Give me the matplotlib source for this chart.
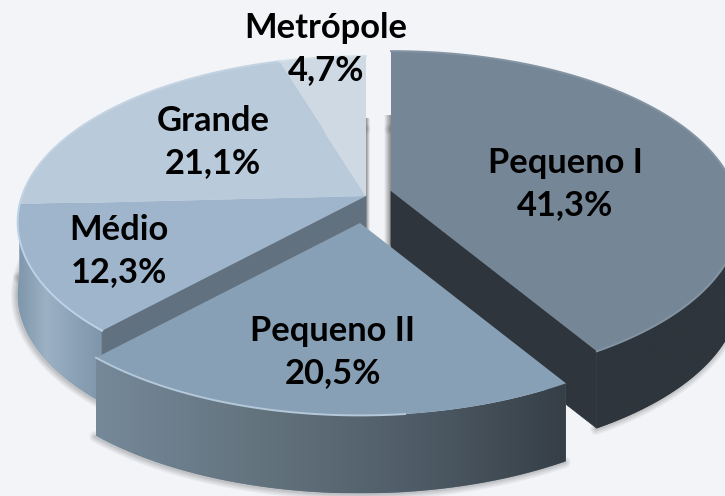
import matplotlib
matplotlib.use('Agg')
import matplotlib.pyplot as plt
import numpy as np
from matplotlib.colors import LinearSegmentedColormap
from matplotlib.patches import Polygon

names = ['Pequeno I', 'Pequeno II', 'Médio', 'Grande', 'Metrópole']
values = [41.3, 20.5, 12.3, 21.1, 4.7]

# where each slice's tip ended up after the explode, in pixels
apex_x = [391, 360, 366, 366, 366]
apex_y = [191, 223, 196, 196, 196]
depth = [77, 78, 72, 72, 72]
label_x = [565, 333, 119, 213, 326]
label_y = [184, 352, 251, 142, 49]

top_colors = ['#758697', '#88a0b5', '#9eb5cc', '#b9cadb', '#cfd9e4']
edge_colors = ['#8494a3', '#b4c8d9', '#bcd2e6', '#c3d3e2', '#d5dfe8']
cut_colors = ['#2e353c', None, '#62717f', None, None]
side_stops = [['#2e353c', '#2e353c'],
              ['#75899a', '#64747f', '#505d68', '#363f47'],
              ['#7f97ab', '#9cb1c4', '#8ca3b7', '#7f96aa'],
              ['#8ca3b7', '#8ca3b7'],
              ['#8ca3b7', '#8ca3b7']]
bg_color = '#f2f4f8'

# pie shape, with a bit of perspective (front looks bigger than the back)
RX = 344
RY = 162
PERSP = 0.158


def project(theta, x0, y0):
    v = -np.cos(theta)
    w = 1 - PERSP * v
    return x0 + RX * np.sin(theta) / w, y0 + RY * v / w


def arc_points(t0, t1, x0, y0):
    t = np.linspace(t0, t1, 120)
    x, y = project(t, x0, y0)
    return np.column_stack([x, y])


def gradient_fill(ax, verts, stops, zorder):
    ax.add_patch(Polygon(verts, closed=True, fc=stops[0], ec='none', zorder=zorder))
    cmap = LinearSegmentedColormap.from_list('side', stops)
    x0, y0 = verts.min(axis=0)
    x1, y1 = verts.max(axis=0)
    im = ax.imshow(np.linspace(0, 1, 256).reshape(1, -1), cmap=cmap, aspect='auto',
                   extent=(x0, x1, y1, y0), zorder=zorder, interpolation='bilinear')
    clip = Polygon(verts, closed=True, transform=ax.transData)
    im.set_clip_path(clip)


def soft_shadow(ax, curve, zorder):
    # stacked see-through strokes stand in for a blurred drop shadow
    for lw in [8, 6, 4, 2.5, 1.2]:
        ax.plot(curve[:, 0] - 1, curve[:, 1] + 1, color='#555555', lw=lw, alpha=0.07,
                zorder=zorder, solid_capstyle='round')


def side_strip(ax, x0, x1, y0, y1, stops, zorder):
    # thin grey shadow beside the cut faces
    cmap = LinearSegmentedColormap.from_list('strip', stops)
    ax.imshow(np.linspace(0, 1, 32).reshape(1, -1), cmap=cmap, aspect='auto',
              extent=(x0, x1, y1, y0), zorder=zorder, interpolation='bilinear')


fig = plt.figure(figsize=(7.25, 4.96), dpi=100, facecolor=bg_color)
ax = fig.add_axes([0, 0, 1, 1])
ax.set_facecolor(bg_color)

fractions = np.array(values) / sum(values)
ends = np.cumsum(fractions) * 2 * np.pi
starts = ends - fractions * 2 * np.pi

side_strip(ax, 366, 370, 118, 230, ['#8f8f8f', bg_color], 1)
side_strip(ax, 384, 391, 115, 246, [bg_color, '#8f8f8f'], 1)

# back to front: the rear slices, then Pequeno I, then Pequeno II
z = 2
for i in [3, 4, 2, 0, 1]:
    x0, y0 = apex_x[i], apex_y[i]
    arc = arc_points(starts[i], ends[i], x0, y0)
    d = np.array([0, depth[i]])
    side = np.vstack([arc, (arc + d)[::-1]])

    soft_shadow(ax, arc + d, z)
    gradient_fill(ax, side, side_stops[i], z + 1)
    if cut_colors[i] is not None:
        # Pequeno I shows the face at its far end, Médio the one at its start
        tip = arc[-1] if i == 0 else arc[0]
        cut = np.array([[x0, y0], tip, tip + d, [x0, y0 + depth[i]]])
        ax.add_patch(Polygon(cut, closed=True, fc=cut_colors[i], ec=cut_colors[i],
                             lw=0.6, zorder=z + 2))
    z += 3

# tops, same order
for i in [3, 4, 2, 0, 1]:
    x0, y0 = apex_x[i], apex_y[i]
    arc = arc_points(starts[i], ends[i], x0, y0)
    top_z = z if i in [3, 4] else 30 - i * 2
    ax.add_patch(Polygon(np.vstack([[x0, y0], arc]), closed=True, fc=top_colors[i],
                         ec='none', zorder=top_z))
    # the light bevel fades towards the right on Pequeno II
    rim = arc[40:] if i == 1 else arc
    ax.plot(rim[:, 0], rim[:, 1], color=edge_colors[i], lw=1.4, zorder=top_z + 0.5)

for i in range(len(names)):
    pct = f'{values[i]:.1f}'.replace('.', ',') + '%'
    ax.text(label_x[i], label_y[i], names[i] + '\n' + pct, ha='center', va='center',
            family='Lato', fontweight='bold', fontsize=24.8, color='black',
            linespacing=1.42, zorder=100)

ax.set_xlim(0, 725)
ax.set_ylim(496, 0)
ax.axis('off')
fig.savefig('out.png', dpi=100, facecolor=bg_color)
